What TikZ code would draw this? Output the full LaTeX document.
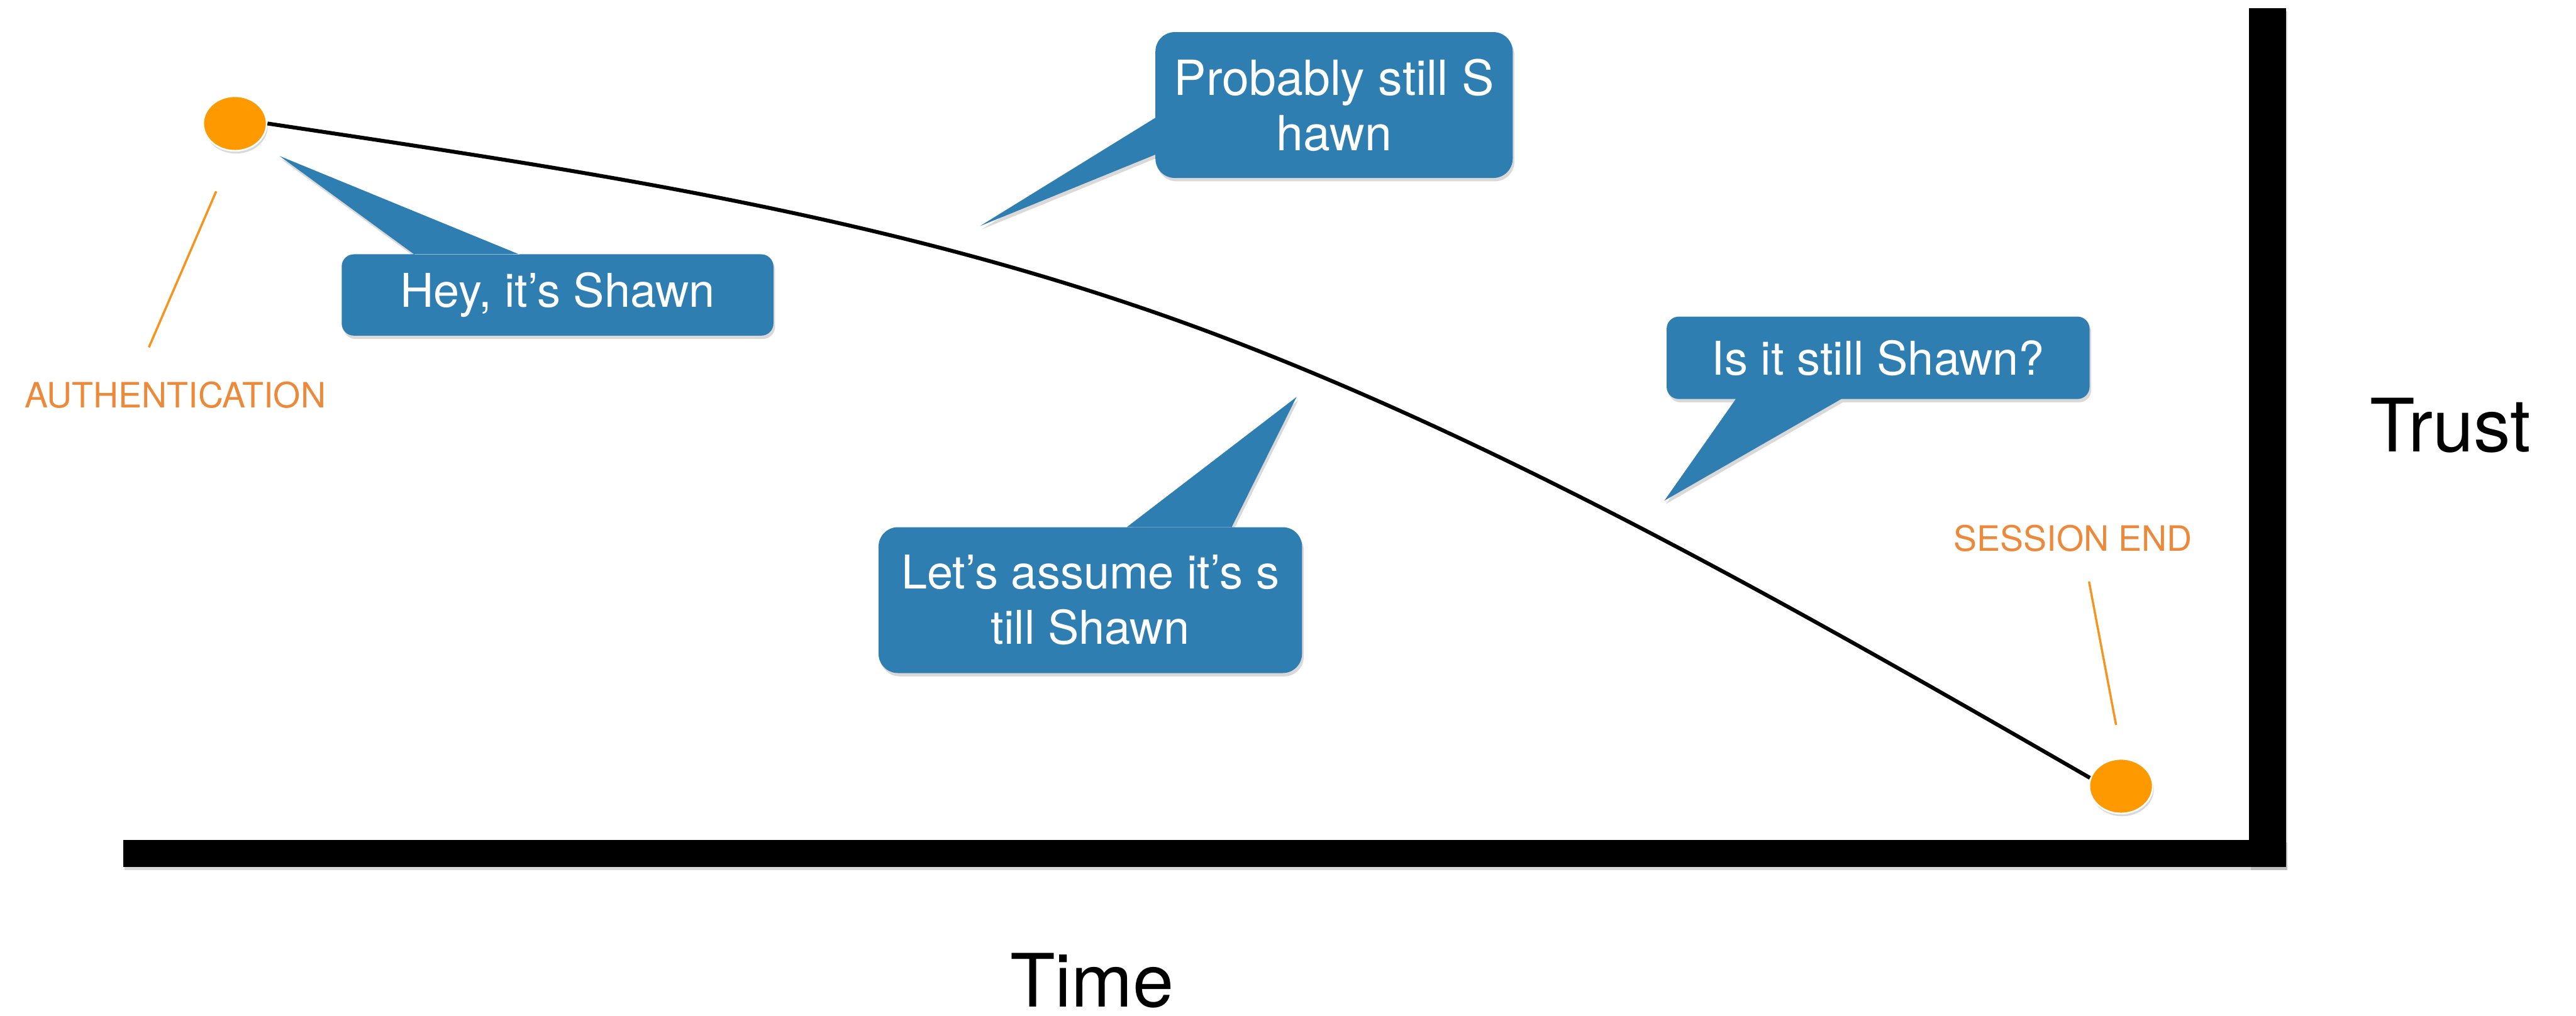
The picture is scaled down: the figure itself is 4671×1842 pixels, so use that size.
\documentclass[tikz,border=0pt]{standalone}
\usepackage{fontspec}
\setmainfont{TeX Gyre Heros}
\usetikzlibrary{shapes.geometric,shadows,backgrounds}

\definecolor{bubbleblue}{RGB}{47,126,177}
\definecolor{dotorange}{RGB}{255,153,0}
\definecolor{tagorange}{RGB}{237,137,58}
\definecolor{leaderorange}{RGB}{247,148,30}

\newcommand{\saysize}{\fontsize{24pt}{28.5pt}\selectfont}
\newcommand{\tagsize}{\fontsize{18pt}{21pt}\selectfont}
\newcommand{\axissize}{\fontsize{38pt}{44pt}\selectfont}

\tikzset{
  saying/.style={text=white, font=\saysize, align=center, inner sep=0pt},
  bubble/.style={fill=bubbleblue, drop shadow={shadow xshift=0.03cm, shadow yshift=-0.06cm, opacity=0.3}},
  moment/.style={ellipse, fill=dotorange, draw=white, line width=0.03cm, minimum width=1.15cm,
    minimum height=0.99cm, inner sep=0pt, drop shadow={shadow xshift=0.02cm, shadow yshift=-0.05cm, opacity=0.3}},
  tag/.style={text=tagorange, font=\tagsize, inner sep=0pt, anchor=base},
  leader/.style={draw=leaderorange, line width=0.04cm},
  axislabel/.style={font=\axissize, inner sep=0pt, anchor=base},
  axisbar/.style={fill=black, drop shadow={shadow xshift=0.03cm, shadow yshift=-0.05cm, opacity=0.3}},
  trustline/.style={line width=0.07cm, line join=round}
}

\begin{document}
\begin{tikzpicture}[x=0.01cm, y=-0.01cm]
\useasboundingbox (0,0) rectangle (4671,1842);

% Ejes
\fill[axisbar] (223,1523) rectangle (4145,1573);
\fill[axisbar] (4078,15) rectangle (4145,1573);
\node[axislabel] (time) at (1980,1826) {Time};
\node[axislabel] (trust) at (4443,819) {Trust};

% Inicio y fin de la sesion
\node[moment] (authdot) at (426,224) {};
\node[moment] (enddot) at (3846,1426) {};
\draw[trustline] (authdot.east) .. controls (1056,310) and (1628,390.5) .. (2200,605)
  .. controls (2730,804) and (3259,1105) .. (enddot.165);

\node[tag] (authtag) at (318,740) {AUTHENTICATION};
\node[tag] (endtag) at (3759,999) {SESSION END};
\coordinate (authtop) at (392,347);
\coordinate (authfoot) at (270,630);
\coordinate (endtop) at (3788,1055);
\coordinate (endfoot) at (3837,1315);
\draw[leader] (authtop) -- (authfoot);
\draw[leader] (endtop) -- (endfoot);

% Globos
\node[saying, minimum width=7.81cm, minimum height=1.46cm] (hey) at (1011,535) {Hey, it’s Shawn};
\node[saying, minimum width=6.46cm, minimum height=2.63cm, font=\fontsize{25pt}{28.5pt}\selectfont]
  (probably) at (2419,190.5) {Probably still S\\hawn};
\node[saying, minimum width=7.66cm, minimum height=2.63cm] (assume) at (1977,1088.5) {Let’s assume it’s s\\till Shawn};
\node[saying, minimum width=7.65cm, minimum height=1.48cm] (still) at (3405.5,649) {Is it still Shawn?};

\coordinate (hey-tip) at (507,283);
\coordinate (hey-a) at (752,462);
\coordinate (hey-b) at (943,462);
\coordinate (probably-tip) at (1777,410);
\coordinate (probably-a) at (2096,213);
\coordinate (probably-b) at (2096,280);
\coordinate (assume-tip) at (2351,720);
\coordinate (assume-a) at (2042,957);
\coordinate (assume-b) at (2233,957);
\coordinate (still-tip) at (3018,908);
\coordinate (still-a) at (3148,723);
\coordinate (still-b) at (3340,723);

\begin{pgfonlayer}{background}
  \foreach \b/\r in {hey/0.22cm, probably/0.35cm, assume/0.35cm, still/0.22cm}
    \fill[bubble] [rounded corners=\r] (\b.south west) rectangle (\b.north east)
      [sharp corners] (\b-tip) -- (\b-a) -- (\b-b) -- cycle;
\end{pgfonlayer}
\end{tikzpicture}
\end{document}
